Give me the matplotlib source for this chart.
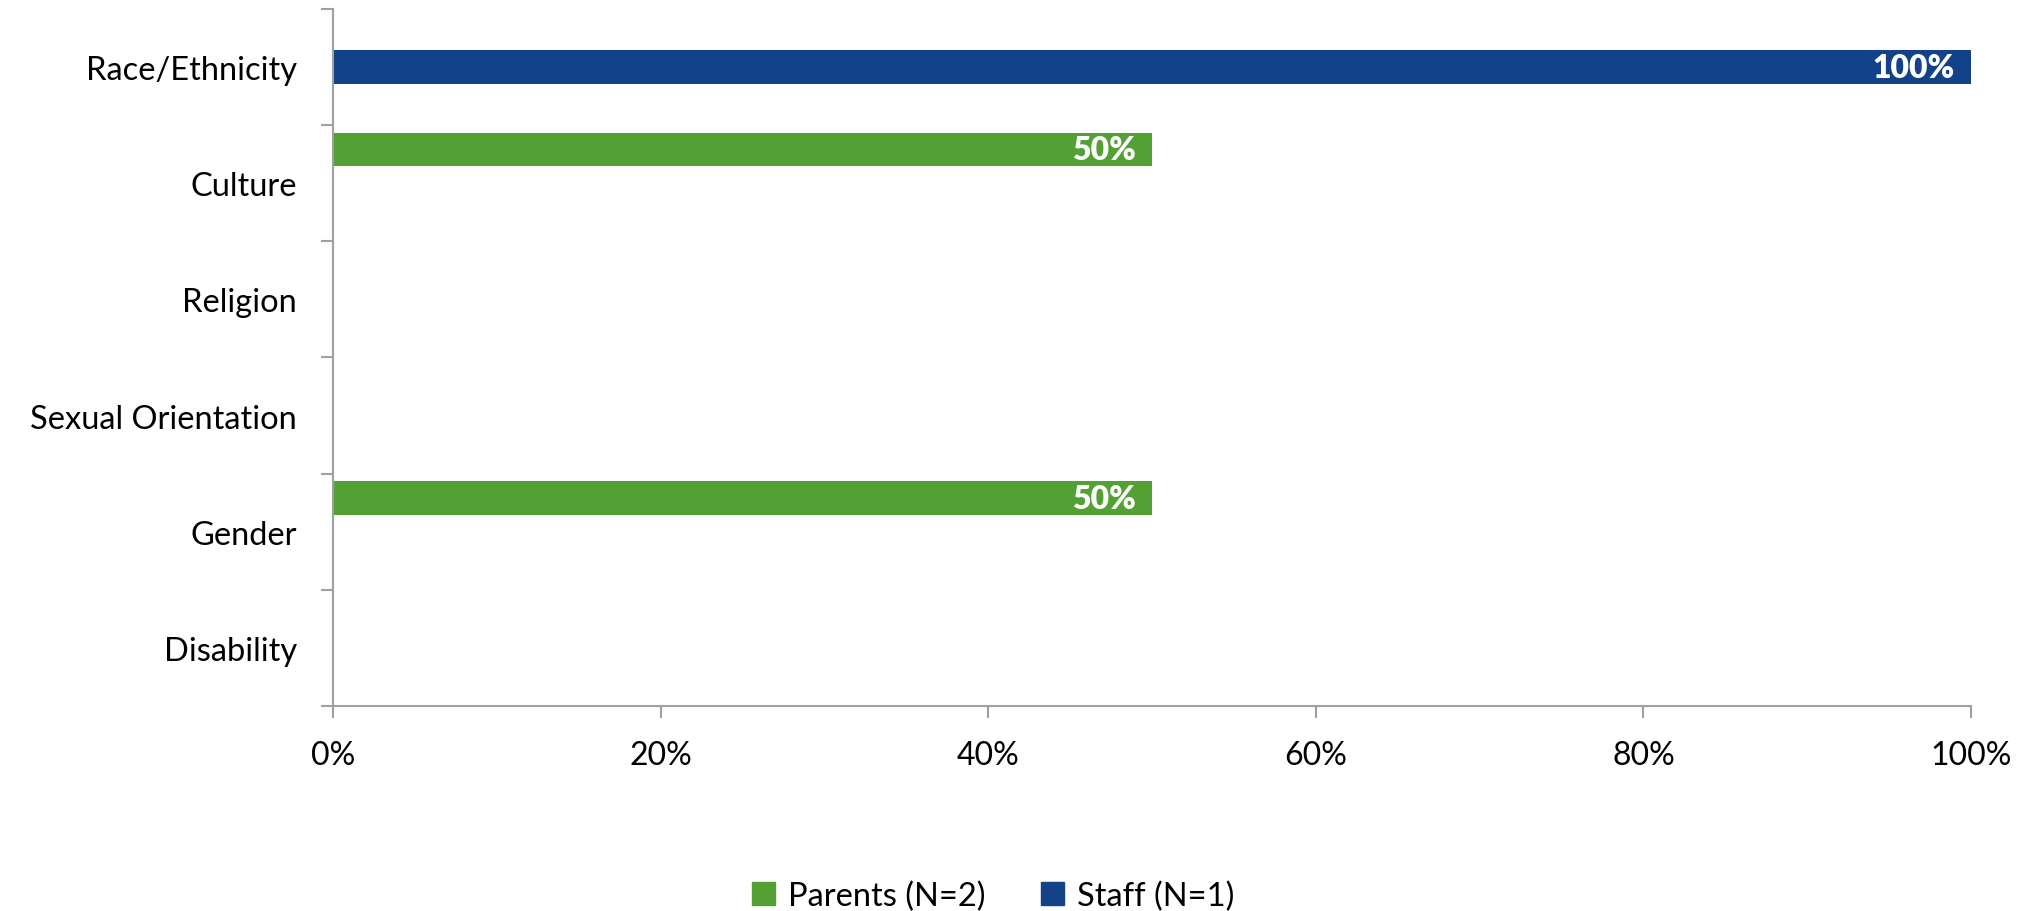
import numpy as np
import matplotlib
matplotlib.use("Agg")
from matplotlib import pyplot as plt
from matplotlib.patches import Patch

plt.rcParams["font.family"] = ["Lato", "DejaVu Sans"]

# dane
categories = ["Race/Ethnicity", "Culture", "Religion", "Sexual Orientation", "Gender", "Disability"]
parents = [0.0, 0.5, 0.0, 0.0, 0.5, 0.0]
staff = [1.0, 0.0, 0.0, 0.0, 0.0, 0.0]
series_names = ["Parents (N=2)", "Staff (N=1)"]
xticks = [0, 0.2, 0.4, 0.6, 0.8, 1.0]

green = "#53A035"
blue = "#134289"
axis_grey = "#A0A0A0"

fig = plt.figure(figsize=(20.35, 9.12), dpi=100)
ax = fig.add_axes([0.1636, 0.2248, 0.8050, 0.7643])

y = np.arange(len(categories))
h = 0.29
b1 = ax.barh(y - h, parents, height=h, color=green, edgecolor="none")
b2 = ax.barh(y, staff, height=h, color=blue, edgecolor="none")

# etykiety danych wewnątrz końca słupka
for bars, vals in [(b1, parents), (b2, staff)]:
    for bar, v in zip(bars, vals):
        if v > 0:
            ax.text(v - 0.010, bar.get_y() + bar.get_height() / 2, f"{v:.0%}",
                    ha="right", va="center", color="white", fontsize=23, fontweight="heavy")

ax.set_xlim(0, 1)
ax.set_ylim(len(categories) - 0.5, -0.5)
ax.set_xticks(xticks)
ax.set_xticklabels([f"{t:.0%}" for t in xticks], fontsize=23)
ax.set_yticks(y)
ax.set_yticklabels(categories, fontsize=23.5)
ax.set_yticks(np.arange(-0.5, len(categories)), minor=True)
ax.tick_params(axis="y", which="major", length=0, pad=26)
ax.tick_params(axis="y", which="minor", length=8.6, color=axis_grey, width=1.5)
ax.tick_params(axis="x", length=8.6, color=axis_grey, width=1.5, pad=16)

for s in ["top", "right"]:
    ax.spines[s].set_visible(False)
for s in ["left", "bottom"]:
    ax.spines[s].set_color(axis_grey)
    ax.spines[s].set_linewidth(1.5)

handles = [Patch(color=green), Patch(color=blue)]
fig.legend(handles, series_names, loc="lower center", bbox_to_anchor=(0.488, -0.032),
           ncol=2, frameon=False, fontsize=23.5, handlelength=0.7, handleheight=0.7,
           handletextpad=0.4, columnspacing=1.7)

plt.savefig("out.png", dpi=100)
plt.close()
